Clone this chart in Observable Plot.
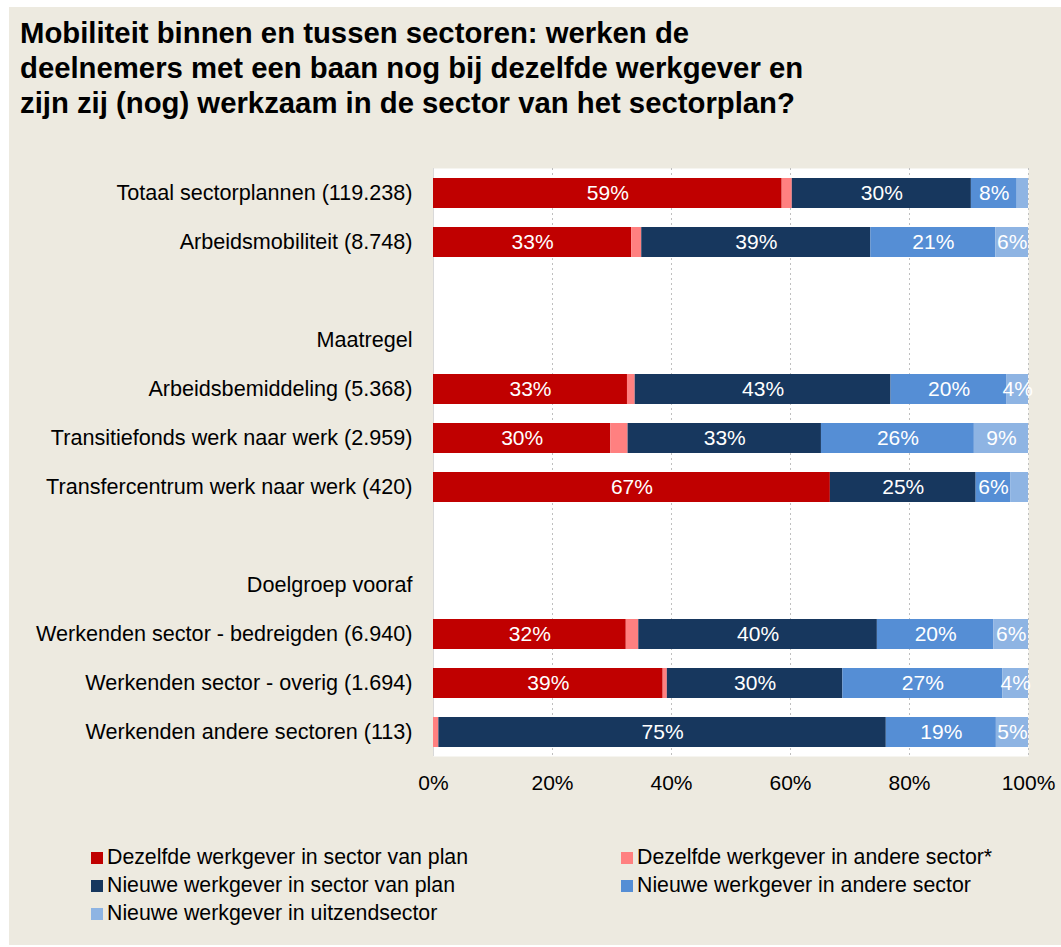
<!DOCTYPE html>
<html><head><meta charset="utf-8">
<script src="https://cdn.jsdelivr.net/npm/d3@7"></script>
<script src="https://cdn.jsdelivr.net/npm/@observablehq/plot@0.6"></script>
<style>
html,body{margin:0;padding:0;background:#fff;}
#page{position:relative;width:1061px;height:947px;overflow:hidden;font-family:"Liberation Sans",Arial,sans-serif;color:#000;}
#bg{position:absolute;left:9px;top:7px;width:1052px;height:938px;background:#EDEAE0;}
#title{position:absolute;left:20px;top:15px;font-weight:bold;font-size:29.3px;line-height:35px;white-space:nowrap;}
#chart{position:absolute;left:0;top:0;}
.leg{position:absolute;font-size:21.3px;line-height:24px;white-space:nowrap;}
.leg .sw{display:inline-block;width:12px;height:12px;margin-right:4px;vertical-align:0px;}
</style></head>
<body>
<div id="page">
  <div id="bg"></div>
  <div id="title">Mobiliteit binnen en tussen sectoren: werken de<br>deelnemers met een baan nog bij dezelfde werkgever en<br>zijn zij (nog) werkzaam in de sector van het sectorplan?</div>
  <div id="chart"></div>
  <div id="legend"></div>
</div>
<script>
const categories = [
  "Totaal sectorplannen (119.238)",
  "Arbeidsmobiliteit (8.748)",
  " ",
  "Maatregel",
  "Arbeidsbemiddeling (5.368)",
  "Transitiefonds werk naar werk (2.959)",
  "Transfercentrum werk naar werk (420)",
  "  ",
  "Doelgroep vooraf",
  "Werkenden sector - bedreigden (6.940)",
  "Werkenden sector - overig (1.694)",
  "Werkenden andere sectoren (113)"
];
const seriesNames = [
  "Dezelfde werkgever in sector van plan",
  "Dezelfde werkgever in andere sector*",
  "Nieuwe werkgever in sector van plan",
  "Nieuwe werkgever in andere sector",
  "Nieuwe werkgever in uitzendsector"
];
const seriesColors = ["#C00000", "#FF8080", "#17375E", "#558ED5", "#8EB4E3"];
const dezelfdeSectorPlan   = [58.6, 33.3, null, null, 32.6, 29.8, 66.7, null, null, 32.4, 38.6, 0];
const dezelfdeAndereSector = [1.7, 1.7, null, null, 1.3, 2.9, 0, null, null, 2.1, 0.7, 0.9];
const nieuweSectorPlan     = [30.1, 38.5, null, null, 43.0, 32.5, 24.5, null, null, 40.1, 29.5, 75.2];
const nieuweAndereSector   = [7.7, 21.0, null, null, 19.5, 25.7, 5.8, null, null, 19.6, 26.9, 18.5];
const nieuweUitzendSector  = [1.9, 5.5, null, null, 3.6, 9.1, 3.0, null, null, 5.8, 4.3, 5.4];
const xTicks = [0, 20, 40, 60, 80, 100];
const gridTicks = [20, 40, 60, 80, 100];

const seriesValues = [dezelfdeSectorPlan, dezelfdeAndereSector, nieuweSectorPlan, nieuweAndereSector, nieuweUitzendSector];
const data = [];
categories.forEach((c, i) => {
  seriesNames.forEach((s, j) => {
    const v = seriesValues[j][i];
    if (v != null) data.push({category: c, series: s, value: v});
  });
});

const chart = Plot.plot({
  width: 1061,
  height: 810,
  marginLeft: 433,
  marginRight: 33,
  marginTop: 168,
  marginBottom: 54,
  style: {background: "transparent", fontFamily: "Liberation Sans, Arial, sans-serif", fontSize: "21px", color: "#000"},
  x: {domain: [0, 100], ticks: xTicks, tickFormat: d => d + "%", label: null, tickSize: 0, tickPadding: 19},
  y: {domain: categories, paddingInner: 0.39, paddingOuter: 0.195, label: null, tickSize: 0, tickPadding: 21},
  color: {domain: seriesNames, range: seriesColors},
  marks: [
    Plot.frame({fill: "white", stroke: null}),
    Plot.ruleX(gridTicks, {stroke: "#BFBFBF", strokeDasharray: "2,3"}),
    Plot.ruleX([0], {stroke: "#D9D9D9"}),
    Plot.barX(data, Plot.stackX({x: "value", y: "category", fill: "series", order: seriesNames})),
    Plot.text(data, Plot.stackX({
      x: "value", y: "category", z: "series", order: seriesNames,
      text: d => Math.round(d.value) >= 4 ? Math.round(d.value) + "%" : "",
      fill: "white", fontSize: 21
    })),
    Plot.axisY({tickSize: 0, tickPadding: 21, fontSize: 21.6, label: null})
  ]
});
document.getElementById("chart").appendChild(chart);

const legendPos = [
  {x: 91, y: 845}, {x: 621, y: 845},
  {x: 91, y: 873}, {x: 621, y: 873},
  {x: 91, y: 901}
];
const legend = document.getElementById("legend");
seriesNames.forEach((s, i) => {
  const d = document.createElement("div");
  d.className = "leg";
  d.style.left = legendPos[i].x + "px";
  d.style.top = legendPos[i].y + "px";
  const sw = document.createElement("span");
  sw.className = "sw";
  sw.style.background = seriesColors[i];
  d.appendChild(sw);
  d.appendChild(document.createTextNode(s));
  legend.appendChild(d);
});
</script>
</body></html>
